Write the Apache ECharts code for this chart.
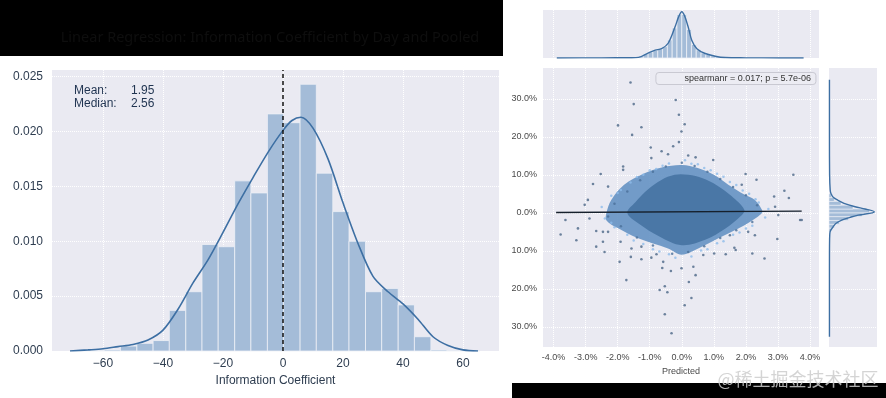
<!DOCTYPE html>
<html>
<head>
<meta charset="utf-8">
<script src="https://cdn.jsdelivr.net/npm/echarts@6/dist/echarts.min.js"></script>
<style>
html, body { margin: 0; padding: 0; background: #fff; }
#main { width: 886px; height: 398px; }
</style>
</head>
<body>
<div id="main"></div>
<script>
// 左边: IC 分布
const icBinEdges = [-70.5, -65.1, -59.6, -54.2, -48.7, -43.3, -37.9, -32.4, -27.0, -21.6, -16.1, -10.7, -5.2, 0.2, 5.7, 11.1, 16.6, 22.0, 27.5, 32.9, 38.4, 43.8, 49.3, 54.7, 60.2, 65.6];
const icDensity = [0.00005, 0.00005, 0.0001, 0.00045, 0.0007, 0.00095, 0.0037, 0.0054, 0.0097, 0.0095, 0.0155, 0.0144, 0.0216, 0.0208, 0.0243, 0.0162, 0.0127, 0.0100, 0.0054, 0.0057, 0.0042, 0.0013, 0.0001, 0.00005, 0.00005];
const icKdeX = [-71, -65, -60, -55, -50, -45, -40, -35, -30, -25, -20, -15, -10, -5, 0, 3, 6, 10, 15, 20, 25, 30, 35, 40, 45, 50, 55, 60, 65];
const icKdeY = [0, 0.0001, 0.0002, 0.0004, 0.0006, 0.0010, 0.0019, 0.0038, 0.0062, 0.0083, 0.0108, 0.0134, 0.0158, 0.0181, 0.0201, 0.0210, 0.0213, 0.0203, 0.0175, 0.0135, 0.0098, 0.0068, 0.0054, 0.0043, 0.0029, 0.0013, 0.0005, 0.0001, 0];
const icTicksX = [-60, -40, -20, 0, 20, 40, 60];
const icTicksY = [0, 0.005, 0.010, 0.015, 0.020, 0.025];
const icZeroX = [0, 0];
const icZeroY = [0, 0.0256];
const icMean = '1.95';
const icMedian = '2.56';

// 右边: 预测 vs 实际
const predTicks = [-4, -3, -2, -1, 0, 1, 2, 3, 4];
const actTicks = [-30, -20, -10, 0, 10, 20, 30];
const outlierX = [-1.60, -1.50, -0.19, -0.09, -1.99, -1.26, 0.09, -0.01, -1.55, -0.97, -0.09, -0.27, 0.43, 0.98, -1.83, -1.83, -2.53, -2.77, -2.30, -2.93, 1.99, 2.33, 3.48, 3.20, 2.88, 3.34, -0.63, 0.20, -0.95, -0.43, 1.87, -3.03,
  -3.63, -3.24, -3.78, -3.29, -2.88, -2.67, -2.46, -2.30, -2.46, -2.67, -2.41, -1.91, -1.94, -1.59, -1.26, -1.73, -0.95, -0.58, -0.61, -0.34, -0.01, 0.36, 0.43, 0.22, -0.53, -0.69, -0.45, 0.30, 0.09, -0.53, -0.32, 0.67, 1.01, 1.37, 1.64, 1.68, 2.20, 2.58, 2.98, 2.07, 2.28, 1.50, 3.01, 3.69, 3.74, 2.91, -1.57, -1.26, -0.79];
const outlierY = [34.3, 28.6, 29.7, 25.8, 23.0, 22.5, 23.3, 21.4, 20.5, 17.2, 18.6, 17.5, 14.6, 13.9, 12.2, 11.3, 10.2, 7.6, 6.9, 3.4, 10.2, 8.7, 10.0, 5.8, 4.3, 3.9, 16.2, 15.1, 14.4, 15.4, 7.4, 2.1,
  -1.9, -4.1, -5.7, -7.2, -1.5, -4.8, -5.0, -5.0, -7.6, -8.9, -10.3, -7.6, -12.9, -11.6, -12.2, -17.7, -11.8, -12.9, -14.5, -15.3, -14.6, -14.2, -16.4, -18.2, -19.3, -20.3, -20.9, -22.4, -24.3, -26.7, -31.7, -11.1, -10.7, -10.9, -9.2, -9.8, -10.7, -12.0, -6.9, -5.0, -5.9, -5.9, -0.6, -1.9, -1.9, 1.6, -9.4, -8.9, -10.9];
const fringeX = [-2.2, -1.9, -1.6, -1.2, -0.8, -0.4, 0.1, 0.5, 0.9, 1.3, 1.7, 2.1, 2.4, 2.7, -2.5, -2.4, -2.1, -1.7, -1.2, -0.7, -0.2, 0.3, 0.8, 1.3, 1.8, 2.2, 2.6,
  -2.0, -1.4, -1.0, -0.6, 0.3, 0.7, 1.1, 1.5, 1.9, 2.3, -2.2, -1.5, -0.9, -0.4, 0.6, 1.1, 1.6, 2.0];
const fringeY = [4.5, 6.0, 8.0, 10.0, 11.5, 13.0, 13.8, 12.8, 11.2, 9.5, 7.3, 5.0, 2.7, 1.0, 1.5, -1.5, -3.8, -5.8, -8.2, -10.2, -11.8, -11.5, -9.6, -7.5, -5.2, -3.4, -1.2,
  5.2, 9.4, 11.2, 12.4, 12.9, 11.8, 10.3, 8.1, 5.9, 3.6, -2.6, -7.3, -9.6, -10.9, -9.9, -8.0, -5.8, -4.1];
const darkSpeckX = [-2.1, -1.7, -1.3, -0.9, -0.5, 0.0, 0.4, 0.8, 1.2, 1.6, 2.0, 2.35, -2.3, -1.9, -1.4, -0.9, -0.3, 0.2, 0.7, 1.2, 1.7, 2.2];
const darkSpeckY = [2.4, 5.6, 8.6, 10.8, 12.2, 13.2, 12.3, 10.8, 8.9, 6.8, 4.6, 2.0, -1.0, -3.5, -6.5, -8.6, -10.8, -10.3, -8.8, -6.6, -4.6, -2.4];
const haloX = [-2.35, -2.2, -1.8, -1.2, -0.6, 0, 0.5, 1.0, 1.45, 1.95, 2.28, 2.5, 2.49, 1.97, 1.14, 0.51, 0, -0.43, -1.36, -2.0, -2.35];
const haloY = [0, 3.4, 7.4, 10.3, 12.0, 12.6, 11.8, 10.0, 7.4, 4.8, 3.4, 0.8, -0.2, -3.2, -6.7, -9.4, -11.0, -9.4, -6.7, -4.0, -2.0];
const coreX = [-1.7, -1.45, -1.05, -0.65, -0.22, 0.2, 0.65, 1.1, 1.55, 1.95, 1.85, 1.35, 0.75, 0, -0.7, -1.35];
const coreY = [0, 2.8, 6.2, 8.6, 10.0, 10.0, 9.1, 7.2, 4.4, 0.8, -0.8, -4.2, -7.0, -8.5, -6.2, -2.8];
const regX = [-3.92, 3.74];
const regY = [0.1, 0.45];

// 上方边缘分布 (predicted)
const predKdeX = [-3.9, -2.5, -1.6, -1.35, -1.04, -0.83, -0.63, -0.42, -0.21, -0.1, 0, 0.1, 0.21, 0.31, 0.47, 0.73, 1.04, 1.35, 2.0, 2.5, 3.8];
const predKdeY = [0, 0.005, 0.01, 0.02, 0.17, 0.26, 0.31, 0.50, 1.04, 1.37, 1.54, 1.37, 0.99, 0.59, 0.31, 0.15, 0.06, 0.015, 0.005, 0.003, 0];
const predBinEdges = [-1.35, -1.2, -1.05, -0.9, -0.75, -0.6, -0.45, -0.3, -0.15, 0, 0.15, 0.3, 0.45, 0.6, 0.75, 0.9, 1.05, 1.2, 1.35];
const predDensity = [0.06, 0.14, 0.2, 0.26, 0.3, 0.38, 0.6, 1.0, 1.45, 1.45, 0.95, 0.45, 0.27, 0.17, 0.12, 0.07, 0.04, 0.02];

// 右侧边缘分布 (actual)
const actKdeY = [35, 20, 10, 6, 5.1, 4, 3.3, 2.5, 1.6, 1.0, 0.26, 0, -0.6, -1.2, -1.9, -2.8, -3.7, -5.0, -7, -15, -32.6];
const actKdeX = [0.003, 0.003, 0.004, 0.008, 0.013, 0.03, 0.06, 0.10, 0.174, 0.24, 0.302, 0.29, 0.195, 0.14, 0.085, 0.045, 0.027, 0.007, 0.004, 0.003, 0.003];
const actBinEdges = [-5, -4, -3, -2, -1, 0, 1, 2, 3, 4, 5];
const actDensity = [0.015, 0.035, 0.07, 0.13, 0.22, 0.27, 0.16, 0.08, 0.035, 0.015];

const zip = (a, b) => a.map((v, i) => [v, b[i]]);
const bg = '#eaeaf2';
const barFill = '#a4bcd8';
const kdeColor = '#3d6fa3';
const gridLine = { show: true, lineStyle: { color: '#ffffff', type: 'dotted', width: 1 } };
const leftLabel = { color: '#2e3d50', fontSize: 12, fontFamily: 'Liberation Sans, Arial, sans-serif' };
const rightLabel = { color: '#4a4a4a', fontSize: 9, fontFamily: 'Liberation Sans, Arial, sans-serif' };

const vBars = (fill) => (params, api) => {
  const a = api.coord([api.value(0), api.value(2)]);
  const b = api.coord([api.value(1), 0]);
  return {
    type: 'rect',
    shape: { x: a[0], y: a[1], width: b[0] - a[0], height: b[1] - a[1] },
    style: { fill: fill, stroke: '#eef0f6', lineWidth: 0.8 }
  };
};
const hBars = (params, api) => {
  const a = api.coord([0, api.value(1)]);
  const b = api.coord([api.value(2), api.value(0)]);
  return {
    type: 'rect',
    shape: { x: a[0], y: a[1], width: b[0] - a[0], height: b[1] - a[1] },
    style: { fill: barFill, stroke: '#eef0f6', lineWidth: 0.6 }
  };
};
const blob = (xs, ys, fill, opacity) => ({
  type: 'custom',
  xAxisIndex: 1, yAxisIndex: 1,
  silent: true,
  clip: true,
  data: [0],
  renderItem: (params, api) => ({
    type: 'polygon',
    shape: { points: zip(xs, ys).map(p => api.coord(p)), smooth: 0.35 },
    style: { fill: fill, opacity: opacity }
  })
});

const hiddenAxis = (gridIndex, min, max) => ({
  gridIndex, type: 'value', min, max,
  axisLine: { show: false }, axisTick: { show: false }, axisLabel: { show: false }, splitLine: { show: false }
});

const option = {
  animation: false,
  backgroundColor: '#ffffff',
  title: [{
    text: 'spearmanr = 0.017; p = 5.7e-06',
    right: 70, top: 72,
    padding: [2, 5, 2, 29],
    backgroundColor: '#ececf3',
    borderColor: '#c9c9d2',
    borderWidth: 1,
    borderRadius: 3,
    textStyle: { color: '#333', fontSize: 9, fontWeight: 'normal', fontFamily: 'Liberation Sans, Arial, sans-serif' }
  }],
  grid: [
    { left: 52, right: 387, top: 70, bottom: 47, show: true, backgroundColor: bg, borderWidth: 0 },
    { left: 543, right: 67, top: 68, bottom: 51, show: true, backgroundColor: bg, borderWidth: 0 },
    { left: 543, right: 67, top: 10, bottom: 340, show: true, backgroundColor: bg, borderWidth: 0 },
    { left: 829, right: 9, top: 68, bottom: 51, show: true, backgroundColor: bg, borderWidth: 0 }
  ],
  xAxis: [
    {
      gridIndex: 0, type: 'value', min: -77, max: 72,
      axisLine: { show: false },
      axisTick: { show: false, customValues: icTicksX },
      axisLabel: { ...leftLabel, margin: 7, customValues: icTicksX, formatter: v => (v < 0 ? '\u2212' + Math.abs(v) : String(v)) },
      splitLine: gridLine,
      name: 'Information Coefficient', nameLocation: 'middle', nameGap: 22,
      nameTextStyle: { ...leftLabel }
    },
    {
      gridIndex: 1, type: 'value', min: -4.33, max: 4.28,
      axisLine: { show: false },
      axisTick: { show: false, customValues: predTicks },
      axisLabel: { ...rightLabel, margin: 6, customValues: predTicks, formatter: v => v.toFixed(1) + '%' },
      splitLine: gridLine,
      name: 'Predicted', nameLocation: 'middle', nameGap: 17,
      nameTextStyle: { ...rightLabel }
    },
    {
      gridIndex: 2, type: 'value', min: -4.33, max: 4.28,
      axisLine: { show: false },
      axisTick: { show: false, customValues: predTicks },
      axisLabel: { show: false, customValues: predTicks },
      splitLine: gridLine
    },
    hiddenAxis(3, 0, 0.32)
  ],
  yAxis: [
    {
      gridIndex: 0, type: 'value', min: 0, max: 0.0256,
      axisLine: { show: false },
      axisTick: { show: false, customValues: icTicksY },
      axisLabel: { ...leftLabel, margin: 9, customValues: icTicksY, formatter: v => v.toFixed(3) },
      splitLine: gridLine
    },
    {
      gridIndex: 1, type: 'value', min: -35.3, max: 38.1,
      axisLine: { show: false },
      axisTick: { show: false, customValues: actTicks },
      axisLabel: { ...rightLabel, margin: 6, customValues: actTicks, formatter: v => Math.abs(v).toFixed(1) + '%' },
      splitLine: gridLine
    },
    hiddenAxis(2, 0, 1.6),
    {
      gridIndex: 3, type: 'value', min: -35.3, max: 38.1,
      axisLine: { show: false },
      axisTick: { show: false, customValues: actTicks },
      axisLabel: { show: false, customValues: actTicks },
      splitLine: gridLine
    }
  ],
  graphic: [
    { type: 'rect', shape: { x: 0, y: 0, width: 503, height: 56 }, style: { fill: '#000' } },
    { type: 'rect', shape: { x: 512, y: 383, width: 374, height: 15 }, style: { fill: '#000' } },
    {
      type: 'text', x: 270, y: 38,
      style: { text: 'Linear Regression: Information Coefficient by Day and Pooled', align: 'center', verticalAlign: 'middle', fill: '#0e0e0e', fontSize: 14.5, fontFamily: 'Noto Sans, sans-serif' }
    },
    {
      type: 'text', x: 74, y: 84,
      style: {
        text: '{k|Mean:}{v|' + icMean + '}\n{k|Median:}{v|' + icMedian + '}',
        rich: {
          k: { width: 57, fontSize: 12, lineHeight: 13, fill: '#1f3350', fontFamily: 'Liberation Sans, Arial, sans-serif' },
          v: { fontSize: 12, lineHeight: 13, fill: '#1f3350', fontFamily: 'Liberation Sans, Arial, sans-serif' }
        }
      }
    },
    {
      type: 'text', x: 798, y: 379,
      style: { text: '@稀土掘金技术社区', align: 'center', verticalAlign: 'middle', fill: 'rgba(205,205,205,0.85)', fontSize: 18, fontFamily: 'Noto Sans CJK SC' }
    }
  ],
  series: [
    {
      type: 'custom', xAxisIndex: 0, yAxisIndex: 0, silent: true,
      encode: { x: [0, 1], y: 2 },
      data: icDensity.map((d, i) => [icBinEdges[i], icBinEdges[i + 1], d]),
      renderItem: vBars(barFill)
    },
    {
      type: 'line', xAxisIndex: 0, yAxisIndex: 0, silent: true,
      data: zip(icKdeX, icKdeY), smooth: 0.3, symbol: 'none',
      lineStyle: { color: kdeColor, width: 1.6 }
    },
    {
      type: 'line', xAxisIndex: 0, yAxisIndex: 0, silent: true,
      data: zip(icZeroX, icZeroY), symbol: 'none',
      lineStyle: { color: '#111', width: 1.5, type: [4, 3] }
    },
    blob(haloX, haloY, '#6592c3', 0.9),
    blob(coreX, coreY, '#4a77a6', 1),
    {
      type: 'scatter', xAxisIndex: 1, yAxisIndex: 1, silent: true,
      data: zip(fringeX, fringeY), symbolSize: 2.5,
      itemStyle: { color: '#8dbbea' }
    },
    {
      type: 'scatter', xAxisIndex: 1, yAxisIndex: 1, silent: true,
      data: zip(darkSpeckX, darkSpeckY), symbolSize: 2.5,
      itemStyle: { color: '#4a6f98' }
    },
    {
      type: 'scatter', xAxisIndex: 1, yAxisIndex: 1, silent: true,
      data: zip(outlierX, outlierY), symbolSize: 2.6,
      itemStyle: { color: '#556f8d', opacity: 0.85 }
    },
    {
      type: 'line', xAxisIndex: 1, yAxisIndex: 1, silent: true,
      data: zip(regX, regY), symbol: 'none',
      lineStyle: { color: '#16202c', width: 1.4 }
    },
    {
      type: 'custom', xAxisIndex: 2, yAxisIndex: 2, silent: true,
      encode: { x: [0, 1], y: 2 },
      data: predDensity.map((d, i) => [predBinEdges[i], predBinEdges[i + 1], d]),
      renderItem: vBars(barFill)
    },
    {
      type: 'line', xAxisIndex: 2, yAxisIndex: 2, silent: true,
      data: zip(predKdeX, predKdeY), smooth: 0.3, symbol: 'none',
      lineStyle: { color: kdeColor, width: 1.4 }
    },
    {
      type: 'custom', xAxisIndex: 3, yAxisIndex: 3, silent: true,
      encode: { x: 2, y: [0, 1] },
      data: actDensity.map((d, i) => [actBinEdges[i], actBinEdges[i + 1], d]),
      renderItem: hBars
    },
    {
      type: 'line', xAxisIndex: 3, yAxisIndex: 3, silent: true,
      data: zip(actKdeX, actKdeY), smooth: 0.3, symbol: 'none',
      lineStyle: { color: kdeColor, width: 1.4 }
    }
  ]
};

const myChart = echarts.init(document.getElementById('main'));
myChart.setOption(option);
</script>
</body>
</html>
